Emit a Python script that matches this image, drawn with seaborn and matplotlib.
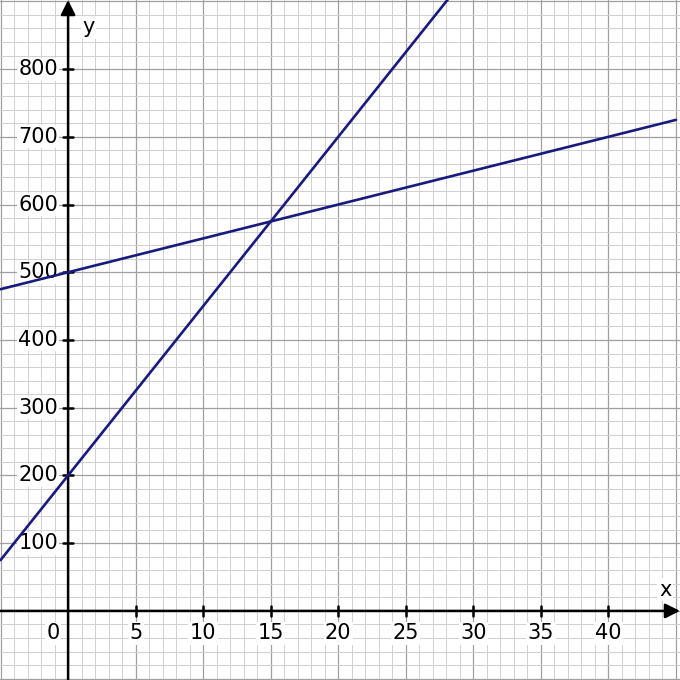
import matplotlib
matplotlib.use("Agg")
import matplotlib.pyplot as plt
import seaborn as sns
import pandas as pd
import numpy as np
from matplotlib.ticker import MultipleLocator

# Data
line_a_x = [-5, 0, 15, 30]
line_a_y = [75, 200, 575, 950]
line_b_x = [-5, 0, 15, 45]
line_b_y = [475, 500, 575, 725]
x_tick_labels = [5, 10, 15, 20, 25, 30, 35, 40]
y_tick_labels = [100, 200, 300, 400, 500, 600, 700, 800]

df = pd.concat([
    pd.DataFrame({"x": line_a_x, "y": line_a_y, "line": "a"}),
    pd.DataFrame({"x": line_b_x, "y": line_b_y, "line": "b"}),
])

sns.set_style("white")
plt.rcParams["font.family"] = ["DejaVu Sans"]
plt.rcParams["text.color"] = "black"

fig = plt.figure(figsize=(6.8, 6.8), dpi=100)
ax = fig.add_axes([0, 0, 1, 1])

XMIN, XMAX = -5.04, 45.3
YMIN, YMAX = -102, 902
ax.set_xlim(XMIN, XMAX)
ax.set_ylim(YMIN, YMAX)

# graph paper grid
ax.xaxis.set_major_locator(MultipleLocator(5))
ax.xaxis.set_minor_locator(MultipleLocator(1))
ax.yaxis.set_major_locator(MultipleLocator(100))
ax.yaxis.set_minor_locator(MultipleLocator(20))
ax.grid(which="minor", color="#d0d0d0", lw=0.7, zorder=0)
ax.grid(which="major", color="#a0a0a0", lw=0.9, zorder=0)
ax.tick_params(which="both", length=0, labelbottom=False, labelleft=False)
for s in ax.spines.values():
    s.set_visible(False)
ax.set_axisbelow(True)

# axes with arrows
ax.annotate("", xy=(XMAX, 0), xytext=(XMIN, 0),
            arrowprops=dict(arrowstyle="-|>", lw=1.8, color="black",
                            mutation_scale=22, shrinkA=0, shrinkB=0), zorder=3)
ax.annotate("", xy=(0, YMAX), xytext=(0, YMIN),
            arrowprops=dict(arrowstyle="-|>", lw=1.8, color="black",
                            mutation_scale=22, shrinkA=0, shrinkB=0), zorder=3)

FS = 15
box = dict(facecolor="white", edgecolor="none", pad=1)
for xv in x_tick_labels:
    ax.plot([xv, xv], [-7, 7], color="black", lw=1.8, zorder=3)
    ax.text(xv, -33, str(xv), ha="center", va="center", fontsize=FS,
            color="black", bbox=box, zorder=4)
for yv in y_tick_labels:
    ax.plot([-0.37, 0.37], [yv, yv], color="black", lw=1.8, zorder=3)
    ax.text(-0.75, yv, str(yv), ha="right", va="center", fontsize=FS,
            color="black", bbox=box, zorder=4)
ax.text(-1.1, -33, "0", ha="center", va="center", fontsize=FS,
        color="black", bbox=box, zorder=4)
ax.text(44.2, 31, "x", ha="center", va="center", fontsize=FS,
        color="black", bbox=box, zorder=4)
ax.text(1.5, 862, "y", ha="center", va="center", fontsize=FS,
        color="black", bbox=box, zorder=4)

sns.lineplot(data=df, x="x", y="y", units="line", estimator=None,
             color="#1a1a7e", lw=1.9, ax=ax, zorder=5, legend=False)
ax.set_xlim(XMIN, XMAX)
ax.set_ylim(YMIN, YMAX)
ax.set_xlabel("")
ax.set_ylabel("")

fig.savefig("out.png", dpi=100)
